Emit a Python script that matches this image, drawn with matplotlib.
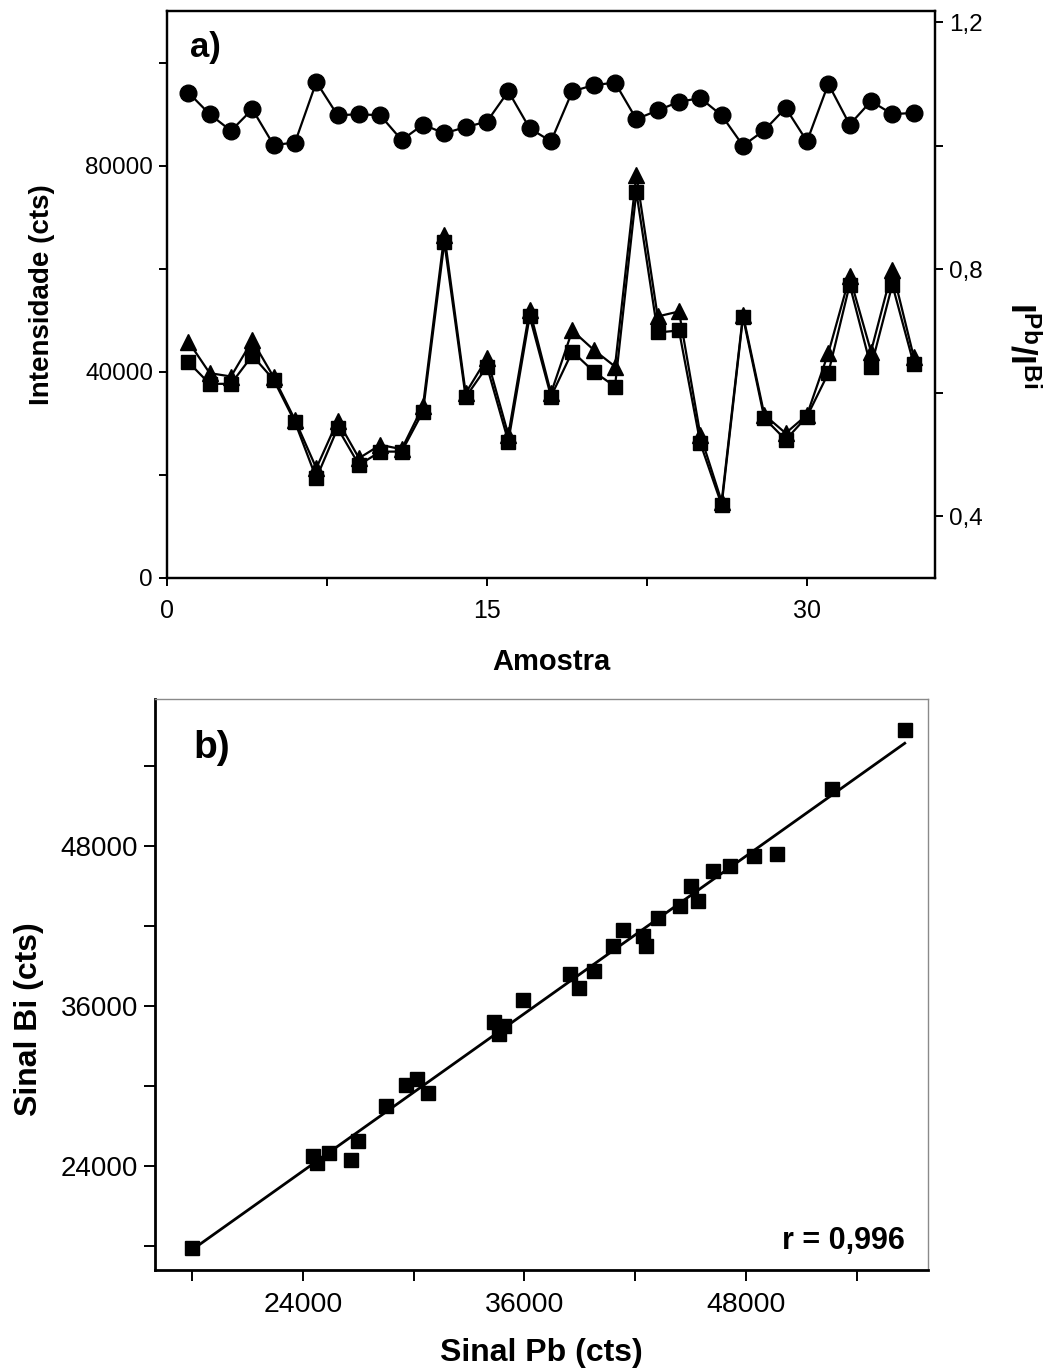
import matplotlib
matplotlib.use("Agg")
import matplotlib.pyplot as plt
import numpy as np
from matplotlib.ticker import FixedLocator, FuncFormatter

plt.rcParams['font.family'] = ['Liberation Sans', 'DejaVu Sans']
plt.rcParams['mathtext.fontset'] = 'custom'
plt.rcParams['mathtext.rm'] = 'Liberation Sans'
plt.rcParams['mathtext.bf'] = 'Liberation Sans:bold'

NARROW = ['Liberation Sans Narrow', 'Liberation Sans', 'DejaVu Sans']

# ---------------- data ----------------
amostra = list(range(1, 36))
sinal_pb_a = [45880, 39750, 39090, 46080, 38970, 30680, 21300, 30540, 23240, 25820,
              24990, 33400, 66600, 35860, 42660, 27770, 52040, 35860, 48020, 44270,
              41030, 78250, 50740, 51710, 27770, 14820, 51070, 31650, 28090, 31650,
              43630, 58500, 43940, 59800, 42970]
sinal_bi_a = [41880, 37670, 37670, 43160, 38450, 30230, 19360, 29070, 21940, 24520,
              24520, 32290, 65110, 35090, 41030, 26470, 50740, 35210, 43940, 40060,
              37150, 74890, 47630, 48020, 26150, 14170, 50620, 31010, 26800, 31330,
              39750, 56890, 40910, 56890, 41550]
razao = [1.086, 1.051, 1.024, 1.059, 1.001, 1.005, 1.103, 1.049, 1.051, 1.049,
         1.009, 1.034, 1.020, 1.030, 1.039, 1.088, 1.028, 1.007, 1.088, 1.098,
         1.102, 1.043, 1.057, 1.071, 1.077, 1.049, 1.000, 1.025, 1.061, 1.007,
         1.100, 1.034, 1.072, 1.051, 1.053]

sinal_pb_b = [17980, 24540, 24770, 25440, 26610, 27010, 28480, 29590, 30210, 30770,
              34330, 34870, 34650, 35900, 38470, 38950, 39770, 40820, 41360, 42400,
              42570, 43230, 44450, 45040, 45410, 46200, 47130, 48420, 49660, 52650,
              56590]
sinal_bi_b = [17830, 24780, 24200, 24940, 24440, 25880, 28520, 30080, 30510, 29490,
              34810, 34520, 33890, 36460, 38400, 37310, 38590, 40480, 41650, 41220,
              40500, 42580, 43480, 44960, 43830, 46110, 46480, 47240, 47360, 52270,
              56650]
r_text = "r = 0,996"

# ---------------- figure ----------------
W, H = 1050, 1370
fig = plt.figure(figsize=(W / 100, H / 100), dpi=100)

# ----- panel a -----
ax1 = fig.add_axes([167 / W, 1 - 578 / H, (935 - 167) / W, (578 - 11) / H])
ax1.plot(amostra, sinal_bi_a, '-s', color='black', lw=1.6, ms=9.5, mec='black', zorder=3)
ax1.plot(amostra, sinal_pb_a, '-^', color='black', lw=1.6, ms=11.5, mec='black', zorder=4)
ax1.set_xlim(0, 36)
ax1.set_ylim(0, 110000)
ax1.xaxis.set_major_locator(FixedLocator([0, 15, 30]))
ax1.xaxis.set_minor_locator(FixedLocator([7.5, 22.5]))
ax1.yaxis.set_major_locator(FixedLocator([0, 40000, 80000]))
ax1.yaxis.set_minor_locator(FixedLocator([20000, 60000, 100000]))
ax1.tick_params(axis='both', which='both', direction='out', length=6, width=1.4)
ax1.tick_params(axis='y', labelsize=17.5, pad=4)
ax1.tick_params(axis='x', labelsize=18, pad=9)
for lab in ax1.get_xticklabels():
    lab.set_family(NARROW)
for sp in ax1.spines.values():
    sp.set_linewidth(1.6)
ax1.set_ylabel('Intensidade (cts)', fontsize=20, fontweight='bold', labelpad=22)
ax1.set_xlabel('Amostra', fontsize=21, fontweight='bold', family=NARROW, labelpad=18)
ax1.text(0.03, 0.965, 'a)', transform=ax1.transAxes, fontsize=25, fontweight='bold',
         family=NARROW, va='top', ha='left')

ax2 = ax1.twinx()
ax2.plot(amostra, razao, '-o', color='black', lw=1.6, ms=12, mec='black', zorder=3)
ax2.set_ylim(0.3, 1.218)
ax2.yaxis.set_major_locator(FixedLocator([0.4, 0.8, 1.2]))
ax2.yaxis.set_minor_locator(FixedLocator([0.6, 1.0]))
ax2.yaxis.set_major_formatter(FuncFormatter(lambda v, p: f"{v:.1f}".replace('.', ',')))
ax2.tick_params(axis='y', which='both', direction='out', length=6, width=1.4)
ax2.tick_params(axis='y', labelsize=17.5, pad=4)
for sp in ax2.spines.values():
    sp.set_linewidth(1.6)
fig.text(1021 / W, 1 - 345 / H, r'$\mathbf{I^{Pb}/I^{Bi}}$', fontsize=25,
         rotation=270, ha='center', va='center')

# ----- panel b -----
ax3 = fig.add_axes([155 / W, 1 - 1270 / H, (928 - 155) / W, (1270 - 699) / H])
ax3.plot(sinal_pb_b, sinal_bi_b, 's', color='black', ms=10, zorder=3)
coef = np.polyfit(sinal_pb_b, sinal_bi_b, 1)
xfit = np.array([min(sinal_pb_b), max(sinal_pb_b)])
ax3.plot(xfit, np.polyval(coef, xfit), '-', color='black', lw=2, zorder=2)
ax3.set_xlim(16000, 57850)
ax3.set_ylim(16200, 59000)
ax3.xaxis.set_major_locator(FixedLocator([24000, 36000, 48000]))
ax3.xaxis.set_minor_locator(FixedLocator([18000, 30000, 42000, 54000]))
ax3.yaxis.set_major_locator(FixedLocator([24000, 36000, 48000]))
ax3.yaxis.set_minor_locator(FixedLocator([18000, 30000, 42000, 54000]))
ax3.tick_params(axis='both', which='both', direction='out', length=8, width=1.4)
ax3.tick_params(axis='y', labelsize=20, pad=4)
ax3.tick_params(axis='x', labelsize=20.5, pad=8)
for lab in ax3.get_xticklabels():
    lab.set_family(NARROW)
ax3.spines['left'].set_linewidth(2)
ax3.spines['bottom'].set_linewidth(2)
ax3.spines['top'].set_linewidth(1)
ax3.spines['right'].set_linewidth(1)
ax3.spines['top'].set_color('#8a8a8a')
ax3.spines['right'].set_color('#8a8a8a')
ax3.set_ylabel('Sinal Bi (cts)', fontsize=23, fontweight='bold')
ax3.yaxis.set_label_coords(-0.143, 0.44)
ax3.set_xlabel('Sinal Pb (cts)', fontsize=23, fontweight='bold', family=NARROW, labelpad=14)
ax3.text(0.05, 0.915, 'b)', transform=ax3.transAxes, fontsize=28, fontweight='bold',
         va='center', ha='left')
ax3.text(0.97, 0.025, r_text, transform=ax3.transAxes, fontsize=22, fontweight='bold',
         family=NARROW, va='bottom', ha='right')

fig.savefig('out.png', dpi=100)
